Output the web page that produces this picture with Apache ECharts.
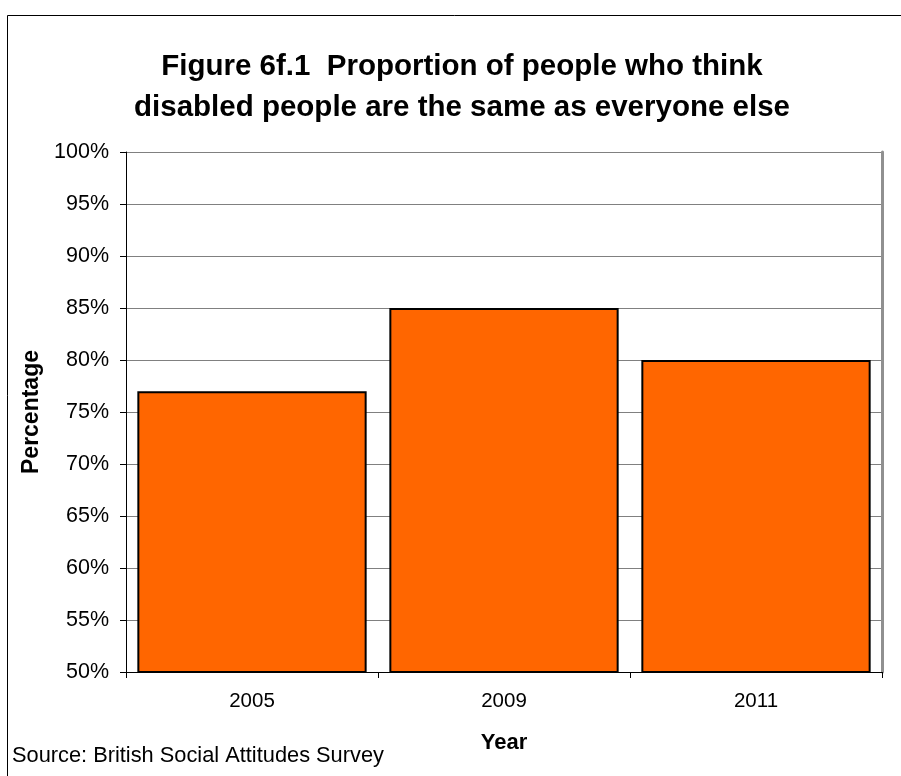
<!DOCTYPE html>
<html>
<head>
<meta charset="utf-8">
<script src="https://cdn.jsdelivr.net/npm/echarts@6/dist/echarts.min.js"></script>
<style>
  html, body { margin: 0; padding: 0; background: #fff; }
  #chart { width: 901px; height: 776px; }
</style>
</head>
<body>
<div id="chart"></div>
<script>
const years = ['2005', '2009', '2011'];
const percentages = [77, 85, 80];
const yMin = 50;
const yMax = 100;
const yStep = 5;

const chart = echarts.init(document.getElementById('chart'), null, { renderer: 'canvas' });

const font = '"Liberation Sans", Arial, sans-serif';

chart.setOption({
  backgroundColor: '#ffffff',
  animation: false,
  title: {
    text: 'Figure 6f.1  Proportion of people who think\ndisabled people are the same as everyone else',
    left: 457,
    textAlign: 'center',
    top: 41,
    textStyle: { fontFamily: font, fontSize: 29.5, fontWeight: 'bold', color: '#000', lineHeight: 41 },
  },
  graphic: [
    {
      type: 'polyline',
      shape: { points: [[7.5, 776], [7.5, 15.5], [901, 15.5]] },
      style: { stroke: '#000', lineWidth: 1, fill: null },
    },
    {
      type: 'text',
      left: 12,
      top: 745,
      style: { text: 'Source: British Social Attitudes Survey', font: '21.8px ' + font, fill: '#000' },
    },
  ],
  grid: { left: 126, right: 19, top: 152, bottom: 104, show: true, borderColor: '#808080', borderWidth: 0 },
  xAxis: {
    type: 'category',
    data: years,
    name: 'Year',
    nameLocation: 'middle',
    nameGap: 60,
    nameTextStyle: { fontFamily: font, fontSize: 22, fontWeight: 'bold', color: '#000' },
    axisLine: { show: true, lineStyle: { color: '#000', width: 1 } },
    axisTick: { show: true, length: 6, lineStyle: { color: '#000' } },
    axisLabel: { fontFamily: font, fontSize: 20.5, color: '#000', margin: 19 },
  },
  yAxis: [
    {
      type: 'value',
      min: yMin,
      max: yMax,
      interval: yStep,
      name: 'Percentage',
      nameLocation: 'middle',
      nameGap: 83,
      nameTextStyle: { fontFamily: font, fontSize: 23, fontWeight: 'bold', color: '#000' },
      axisLine: { show: true, lineStyle: { color: '#000', width: 1 } },
      axisTick: { show: true, length: 6, lineStyle: { color: '#000' } },
      axisLabel: { fontFamily: font, fontSize: 21.5, color: '#000', margin: 17, formatter: '{value}%' },
      splitLine: { show: true, lineStyle: { color: '#808080', width: 1 } },
    },
    {
      type: 'value',
      position: 'right',
      min: yMin,
      max: yMax,
      interval: yStep,
      axisLine: { show: true, lineStyle: { color: '#909090', width: 3 } },
      axisTick: { show: false },
      axisLabel: { show: false },
      splitLine: { show: false },
    },
  ],
  series: [
    {
      type: 'bar',
      data: percentages,
      barCategoryGap: '9%',
      itemStyle: { color: '#FF6600', borderColor: '#000', borderWidth: 2 },
    },
  ],
});
</script>
</body>
</html>
